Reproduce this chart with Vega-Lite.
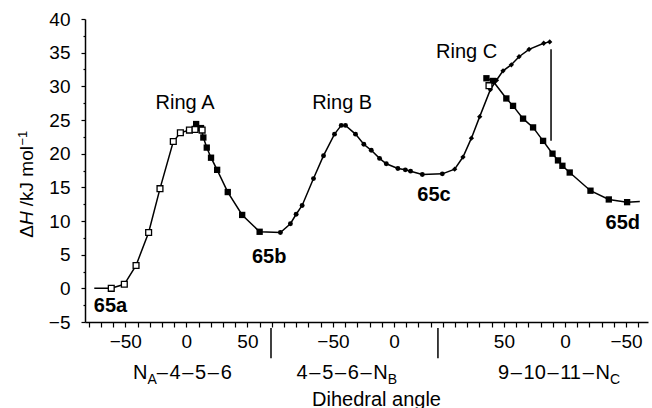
{
  "$schema": "https://vega.github.io/schema/vega-lite/v6.json",
  "width": 563,
  "height": 303,
  "autosize": {"type": "none"},
  "padding": {"left": 85, "top": 19, "right": 4, "bottom": 86},
  "background": "white",
  "config": {
    "view": {"stroke": null},
    "font": "Liberation Sans",
    "axis": {"grid": false, "domainColor": "black", "domainWidth": 1.5, "tickColor": "black", "tickWidth": 1.2, "labelColor": "black", "titleColor": "black", "labelFont": "Liberation Sans", "titleFont": "Liberation Sans", "titleFontWeight": "normal"}
  },
  "datasets": {
    "curve": [
      {"u": -75.4, "v": 0, "s": "A1", "m": "n"},
      {"u": -61.5, "v": 0, "s": "A1", "m": "os"},
      {"u": -50.8, "v": 0.6, "s": "A1", "m": "os"},
      {"u": -41.2, "v": 3.4, "s": "A1", "m": "os"},
      {"u": -30.9, "v": 8.3, "s": "A1", "m": "os"},
      {"u": -21.6, "v": 14.8, "s": "A1", "m": "os"},
      {"u": -10.7, "v": 21.8, "s": "A1", "m": "os"},
      {"u": -4.9, "v": 23.1, "s": "A1", "m": "os"},
      {"u": 2.5, "v": 23.5, "s": "A1", "m": "os"},
      {"u": 7.1, "v": 23.6, "s": "A1", "m": "os"},
      {"u": 12.9, "v": 23.5, "s": "A1", "m": "os"},
      {"u": 8, "v": 24.4, "s": "A2", "m": "fs"},
      {"u": 12, "v": 23.8, "s": "A2", "m": "fs"},
      {"u": 13.9, "v": 22.4, "s": "A2", "m": "fs"},
      {"u": 16.7, "v": 20.9, "s": "A2", "m": "fs"},
      {"u": 20.2, "v": 19.4, "s": "A2", "m": "fs"},
      {"u": 25.2, "v": 17.6, "s": "A2", "m": "fs"},
      {"u": 33.9, "v": 14.3, "s": "A2", "m": "fs"},
      {"u": 45.7, "v": 10.9, "s": "A2", "m": "fs"},
      {"u": 60, "v": 8.4, "s": "A2", "m": "fs"},
      {"u": 77, "v": 8.3, "s": "A2", "m": "d"},
      {"u": 85.2, "v": 9.6, "s": "A2", "m": "d"},
      {"u": 89.9, "v": 11, "s": "A2", "m": "d"},
      {"u": 94.8, "v": 12.3, "s": "A2", "m": "d"},
      {"u": 104.1, "v": 16.3, "s": "A2", "m": "d"},
      {"u": 112.3, "v": 19.7, "s": "A2", "m": "d"},
      {"u": 121.3, "v": 22.9, "s": "A2", "m": "d"},
      {"u": 126.8, "v": 24.2, "s": "A2", "m": "d"},
      {"u": 130.3, "v": 24.2, "s": "A2", "m": "d"},
      {"u": 138.5, "v": 22.9, "s": "A2", "m": "d"},
      {"u": 145.3, "v": 21.4, "s": "A2", "m": "d"},
      {"u": 151.4, "v": 20.5, "s": "A2", "m": "d"},
      {"u": 158.2, "v": 19.3, "s": "A2", "m": "d"},
      {"u": 163.7, "v": 18.5, "s": "A2", "m": "d"},
      {"u": 173.2, "v": 17.8, "s": "A2", "m": "d"},
      {"u": 179.3, "v": 17.6, "s": "A2", "m": "d"},
      {"u": 183.6, "v": 17.4, "s": "A2", "m": "d"},
      {"u": 193.2, "v": 16.9, "s": "A2", "m": "d"},
      {"u": 209.6, "v": 17.0, "s": "A2", "m": "d"},
      {"u": 219.7, "v": 17.7, "s": "A2", "m": "dm"},
      {"u": 226.5, "v": 19.5, "s": "A2", "m": "dm"},
      {"u": 233.4, "v": 22.3, "s": "A2", "m": "dm"},
      {"u": 240.2, "v": 25.5, "s": "A2", "m": "dm"},
      {"u": 248.9, "v": 29.5, "s": "A2", "m": "dm"},
      {"u": 253.9, "v": 30.9, "s": "A2", "m": "dm"},
      {"u": 259.3, "v": 32.3, "s": "A2", "m": "dm"},
      {"u": 266.1, "v": 33.2, "s": "A2", "m": "dm"},
      {"u": 272.4, "v": 34.4, "s": "A2", "m": "dm"},
      {"u": 280.6, "v": 35.5, "s": "A2", "m": "dm"},
      {"u": 292.6, "v": 36.4, "s": "A2", "m": "dm"},
      {"u": 297.5, "v": 36.6, "s": "A2", "m": "dm"},
      {"u": 245.7, "v": 31.2, "s": "C2", "m": "fs"},
      {"u": 251, "v": 30.8, "s": "C2", "m": "fs"},
      {"u": 262, "v": 28.2, "s": "C2", "m": "fs"},
      {"u": 267.5, "v": 27.1, "s": "C2", "m": "fs"},
      {"u": 275.7, "v": 25.2, "s": "C2", "m": "fs"},
      {"u": 283.9, "v": 23.9, "s": "C2", "m": "fs"},
      {"u": 292.1, "v": 21.9, "s": "C2", "m": "fs"},
      {"u": 299.8, "v": 20.0, "s": "C2", "m": "fs"},
      {"u": 304.3, "v": 19.0, "s": "C2", "m": "fs"},
      {"u": 307.9, "v": 18.2, "s": "C2", "m": "fs"},
      {"u": 313.9, "v": 17.2, "s": "C2", "m": "fs"},
      {"u": 330.9, "v": 14.5, "s": "C2", "m": "fs"},
      {"u": 345.9, "v": 13.2, "s": "C2", "m": "fs"},
      {"u": 360.9, "v": 12.8, "s": "C2", "m": "fs"},
      {"u": 371.3, "v": 12.9, "s": "C2", "m": "n"},
      {"u": 247.8, "v": 30.1, "s": "C3", "m": "os"}
    ],
    "rules": [
      {"u": 298.6, "v": 35.5, "v2": 21.9},
      {"u": 69.3, "v": -5.9, "v2": -10.4},
      {"u": 206, "v": -5.9, "v2": -10.4}
    ],
    "labels": [
      {"t": "Ring A", "u": -1.1, "v": 26.6, "k": "ring"},
      {"t": "Ring B", "u": 127.6, "v": 26.6, "k": "ring"},
      {"t": "Ring C", "u": 229.5, "v": 34.2, "k": "ring"},
      {"t": "65a", "u": -62.1, "v": -3.5, "k": "cmp"},
      {"t": "65b", "u": 67.8, "v": 3.8, "k": "cmp"},
      {"t": "65c", "u": 202.8, "v": 12.9, "k": "cmp"},
      {"t": "65d", "u": 357.4, "v": 8.8, "k": "cmp"},
      {"t": "N", "u": -31.9, "v": -13.4, "k": "segR"},
      {"t": "A", "u": -31.9, "v": -14.2, "k": "sub"},
      {"t": "\u200a–\u200a4\u200a–\u200a5\u200a–\u200a6", "u": -24.3, "v": -13.4, "k": "segL"},
      {"t": "4\u200a–\u200a5\u200a–\u200a6\u200a–\u200aN", "u": 164.9, "v": -13.4, "k": "segR"},
      {"t": "B", "u": 164.9, "v": -14.2, "k": "sub"},
      {"t": "9\u200a–\u200a10\u200a–\u200a11\u200a–\u200aN", "u": 346.8, "v": -13.4, "k": "segR"},
      {"t": "C", "u": 346.8, "v": -14.2, "k": "sub"},
      {"t": "Δ", "u": -125.6, "v": 7.5, "k": "yt"},
      {"t": "H", "u": -125.6, "v": 9.4, "k": "yti"},
      {"t": "/kJ mol", "u": -125.6, "v": 12.2, "k": "yt"},
      {"t": "−1", "u": -130.5, "v": 21.2, "k": "yts"}
    ]
  },
  "encoding": {
    "x": {
      "field": "u", "type": "quantitative",
      "scale": {"domain": [-83, 378], "nice": false, "zero": false},
      "axis": {
        "values": [-80, -70, -60, -50, -40, -30, -20, -10, 0, 10, 20, 30, 40, 50, 60, 70, 80, 90, 100, 110, 120, 130, 140, 150, 160, 170, 180, 190, 200, 210, 220, 230, 240, 250, 260, 270, 280, 290, 300, 310, 320, 330, 340, 350, 360, 370],
        "labelExpr": "datum.value === -50 ? '−50' : datum.value === 0 ? '0' : datum.value === 50 ? '50' : datum.value === 120 ? '−50' : datum.value === 170 ? '0' : datum.value === 260 ? '50' : datum.value === 310 ? '0' : datum.value === 360 ? '−50' : ''",
        "labelFontSize": 19, "labelPadding": 5, "labelOverlap": false, "labelFlush": false,
        "tickSize": 5,
        "title": "Dihedral angle", "titleFontSize": 20,
        "titleX": 291, "titleY": 83, "titleAlign": "center", "titleBaseline": "alphabetic", "titleAnchor": "start"
      }
    },
    "y": {
      "field": "v", "type": "quantitative",
      "scale": {"domain": [-5, 40], "nice": false, "zero": false},
      "axis": {
        "values": [-5, -2.5, 0, 2.5, 5, 7.5, 10, 12.5, 15, 17.5, 20, 22.5, 25, 27.5, 30, 32.5, 35, 37.5, 40],
        "labelExpr": "datum.value % 5 === 0 ? datum.label : ''",
        "labelFontSize": 19, "labelPadding": 11, "labelOverlap": false, "labelFlush": false,
        "tickSize": {"condition": {"test": "datum.value % 5 === 0", "value": 4}, "value": 2},
        "title": null
      }
    }
  },
  "layer": [
    {
      "data": {"name": "curve"},
      "mark": {"type": "line", "color": "black", "strokeWidth": 1.5},
      "encoding": {"detail": {"field": "s"}, "order": {"field": "u"}}
    },
    {
      "data": {"name": "rules"},
      "mark": {"type": "rule", "color": "black", "strokeWidth": 1.5},
      "encoding": {"y2": {"field": "v2"}}
    },
    {
      "data": {"name": "curve"},
      "transform": [{"filter": "datum.m === 'fs'"}],
      "mark": {"type": "point", "shape": "square", "filled": true, "color": "black", "size": 40, "opacity": 1}
    },
    {
      "data": {"name": "curve"},
      "transform": [{"filter": "datum.m === 'd'"}],
      "mark": {"type": "point", "shape": "circle", "filled": true, "color": "black", "size": 24, "opacity": 1}
    },
    {
      "data": {"name": "curve"},
      "transform": [{"filter": "datum.m === 'dm'"}],
      "mark": {"type": "point", "shape": "diamond", "filled": true, "color": "black", "size": 28, "opacity": 1}
    },
    {
      "data": {"name": "curve"},
      "transform": [{"filter": "datum.m === 'os'"}],
      "mark": {"type": "point", "shape": "square", "filled": true, "fill": "white", "stroke": "black", "strokeWidth": 1.3, "size": 34, "opacity": 1}
    },
    {
      "data": {"name": "labels"},
      "transform": [{"filter": "datum.k === 'ring'"}],
      "mark": {"type": "text", "fontSize": 20, "align": "center", "baseline": "alphabetic", "color": "black", "font": "Liberation Sans"},
      "encoding": {"text": {"field": "t"}}
    },
    {
      "data": {"name": "labels"},
      "transform": [{"filter": "datum.k === 'cmp'"}],
      "mark": {"type": "text", "fontSize": 20, "fontWeight": "bold", "align": "center", "baseline": "alphabetic", "color": "black", "font": "Liberation Sans"},
      "encoding": {"text": {"field": "t"}}
    },
    {
      "data": {"name": "labels"},
      "transform": [{"filter": "datum.k === 'segR'"}],
      "mark": {"type": "text", "fontSize": 20, "align": "right", "baseline": "alphabetic", "color": "black", "font": "Liberation Sans"},
      "encoding": {"text": {"field": "t"}}
    },
    {
      "data": {"name": "labels"},
      "transform": [{"filter": "datum.k === 'segL'"}],
      "mark": {"type": "text", "fontSize": 20, "align": "left", "baseline": "alphabetic", "color": "black", "font": "Liberation Sans"},
      "encoding": {"text": {"field": "t"}}
    },
    {
      "data": {"name": "labels"},
      "transform": [{"filter": "datum.k === 'sub'"}],
      "mark": {"type": "text", "fontSize": 14, "align": "left", "baseline": "alphabetic", "color": "black", "font": "Liberation Sans"},
      "encoding": {"text": {"field": "t"}}
    },
    {
      "data": {"name": "labels"},
      "transform": [{"filter": "datum.k === 'yt'"}],
      "mark": {"type": "text", "fontSize": 19, "angle": 270, "align": "left", "baseline": "alphabetic", "color": "black", "font": "Liberation Sans"},
      "encoding": {"text": {"field": "t"}}
    },
    {
      "data": {"name": "labels"},
      "transform": [{"filter": "datum.k === 'yti'"}],
      "mark": {"type": "text", "fontSize": 19, "fontStyle": "italic", "angle": 270, "align": "left", "baseline": "alphabetic", "color": "black", "font": "Liberation Sans"},
      "encoding": {"text": {"field": "t"}}
    },
    {
      "data": {"name": "labels"},
      "transform": [{"filter": "datum.k === 'yts'"}],
      "mark": {"type": "text", "fontSize": 13, "angle": 270, "align": "left", "baseline": "alphabetic", "color": "black", "font": "Liberation Sans"},
      "encoding": {"text": {"field": "t"}}
    }
  ]
}
